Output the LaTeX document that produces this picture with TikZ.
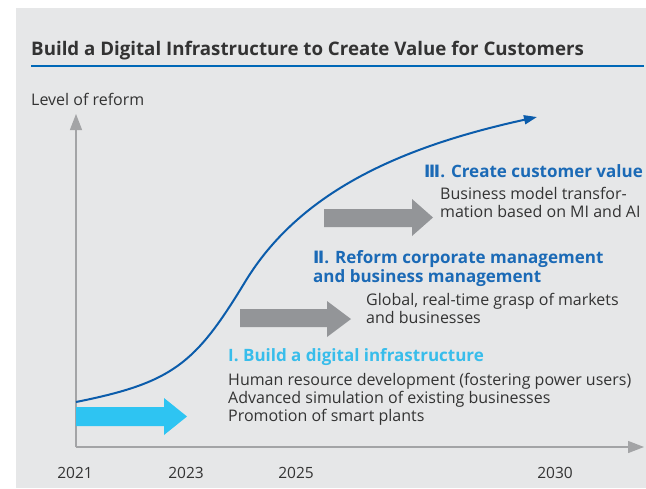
\documentclass[tikz,border=0pt]{standalone}
\usepackage{fontspec}
\setmainfont{Open Sans}
\newfontfamily\numfont{DejaVu Sans}
\usetikzlibrary{arrows.meta}
\definecolor{panel}{HTML}{E6E7E8}
\definecolor{txt}{HTML}{333333}
\definecolor{ruleblue}{HTML}{0068B7}
\definecolor{curveblue}{HTML}{0B5CAB}
\definecolor{headblue}{HTML}{1B6AB6}
\definecolor{headcyan}{HTML}{38BDEB}
\definecolor{arrcyan}{HTML}{2EC4F2}
\definecolor{arrgray}{HTML}{939598}
\definecolor{axisgray}{HTML}{A3A4A6}
\tikzset{
  lbl/.style={inner sep=0pt, anchor=base west, text=txt, align=left},
  bodytext/.style={lbl, font=\fontsize{16}{17.5}\selectfont},
  headtext/.style={inner sep=0pt, anchor=base west, align=left, font=\fontsize{17}{19}\selectfont\bfseries},
  yeartext/.style={inner sep=0pt, anchor=base, text=txt, font=\fontsize{15.5}{17}\selectfont},
  axisline/.style={draw=axisgray, line width=1.3pt, -{Triangle[length=16pt,width=12pt]}},
  blockarrow/.style={fill=#1, draw=none}
}
\begin{document}
\begin{tikzpicture}[x=1pt,y=-1pt]
\useasboundingbox (0,0) rectangle (646,488);
\fill[panel] (16,8) rectangle (646,488);

% title
\node[inner sep=0pt, anchor=base west, text=txt, font=\fontsize{18.7}{20}\selectfont\bfseries] (title) at (31,55) {Build a Digital Infrastructure to Create Value for Customers};
\coordinate (ruleL) at (31,66);
\coordinate (ruleR) at (644,66);
\draw[ruleblue, line width=1.2pt] (ruleL) -- (ruleR);

% axes
\coordinate (O) at (76,447);
\coordinate (ytip) at (76,114);
\coordinate (xtip) at (644,447);
\draw[axisline] (O) -- (ytip);
\draw[axisline] (O) -- (xtip);
\node[bodytext] (ylabel) at (31,105) {Level of reform};

% years
\node[yeartext] (y2021) at (75,478) {2021};
\node[yeartext] (y2023) at (186,478) {2023};
\node[yeartext] (y2025) at (296,478) {2025};
\node[yeartext] (y2030) at (555,478) {2030};

% block arrows
\fill[blockarrow=arrcyan] (76,407) -- (164,407) -- (164,398) -- (187,416.5) -- (164,435) -- (164,426) -- (76,426) -- cycle;
\fill[blockarrow=arrgray] (240,309) -- (327,309) -- (327,301) -- (351,319) -- (327,337) -- (327,327) -- (240,327) -- cycle;
\fill[blockarrow=arrgray] (324,209) -- (412,209) -- (412,199) -- (433,217.5) -- (412,236) -- (412,227) -- (324,227) -- cycle;

% curve
\coordinate (cstart) at (76,402);
\coordinate (cmid) at (245,282);
\coordinate (cend) at (537,117);
\draw[curveblue, line width=2pt, -{Triangle[length=13pt,width=9pt]}]
  (cstart) .. controls (172.5,382.7) and (195.2,364.2) .. (cmid)
           .. controls (299.5,192) and (400,147) .. (cend);

% stage III (base = last line)
\node[headtext, text=headblue] (h3) at (424,177) {{\numfont Ⅲ}. Create customer value};
\node[bodytext] (b3) at (440,217) {Business model transfor-\\mation based on MI and AI};

% stage II
\node[headtext, text=headblue] (h2) at (313,282) {{\numfont Ⅱ}. Reform corporate management\\and business management};
\node[bodytext] (b2) at (366,323) {Global, real-time grasp of markets\\and businesses};

% stage I
\node[headtext, text=headcyan] (h1) at (228,361) {I. Build a digital infrastructure};
\node[bodytext, font=\fontsize{16}{18}\selectfont] (b1) at (228,421) {Human resource development (fostering power users)\\Advanced simulation of existing businesses\\Promotion of smart plants};
\end{tikzpicture}
\end{document}
